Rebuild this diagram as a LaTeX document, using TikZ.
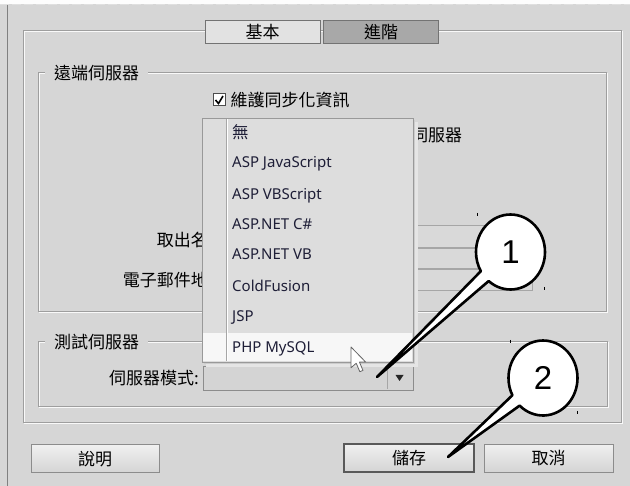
\documentclass[tikz,border=0pt]{standalone}
\usepackage{fontspec}
\newfontfamily\cjk{Noto Sans CJK TC}
\newfontfamily\uisans{Noto Sans}
\newfontfamily\numfont{Liberation Sans}
\usetikzlibrary{positioning, shapes.callouts}

\definecolor{dlgbg}{RGB}{214,214,214}
\definecolor{framegray}{RGB}{158,158,158}
\definecolor{menubg}{RGB}{221,221,221}
\definecolor{itemtext}{RGB}{30,30,55}
\definecolor{tabsel}{RGB}{168,168,168}
\definecolor{tabplain}{RGB}{226,226,226}

\begin{document}
\begin{tikzpicture}[x=1pt, y=-1pt]

	\tikzstyle{every node}=[font=\cjk\fontsize{17}{17}\selectfont, inner sep=0pt]
	\tikzstyle{etch}=[draw=framegray, line width=1pt]
	\tikzstyle{glow}=[draw=white!85!dlgbg, line width=1pt]
	\tikzstyle{grptitle}=[fill=dlgbg, anchor=west, inner xsep=6pt, inner ysep=2pt, minimum width=103pt]
	\tikzstyle{tabbox}=[draw=black!55, line width=1pt, minimum width=115pt, minimum height=23pt]
	\tikzstyle{btn}=[draw=black!45, line width=1pt, top color=black!6, bottom color=black!17, minimum height=28pt]
	\tikzstyle{item}=[anchor=base west, font=\uisans\fontsize{15}{15}\selectfont, text=itemtext]
	\tikzstyle{balloon}=[ellipse callout, draw=black, fill=white, line width=2.6pt, line join=round, minimum width=69pt, minimum height=75pt, callout pointer arc=20, font=\numfont\fontsize{33}{33}\selectfont]
	\tikzstyle{tick}=[black, line width=0.8pt]

	% dialog background
	\fill[dlgbg] (0,0) rectangle (630,486);
	\useasboundingbox (0,0) rectangle (630,486);
	\fill[white!95!dlgbg] (0,0) rectangle (630,4);
	\draw[black!12, dash pattern=on 9pt off 3pt] (0,4.5) -- (630,4.5);
	\draw[black!50, line width=1.2pt] (7.5,5) -- (7.5,486);

	% outer frame and the two groups
	\draw[glow] (24,32) rectangle (622,424);
	\draw[etch] (23,31) rectangle (621,423);
	\draw[glow] (39,74) rectangle (607,313);
	\draw[etch] (38,73) rectangle (606,312);
	\draw[glow] (39,343) rectangle (608,408);
	\draw[etch] (38,342) rectangle (607,407);

	\node[grptitle] (remtitle) at (45,73) {遠端伺服器\hfill};
	\node[grptitle] (tsttitle) at (45,342) {測試伺服器\hfill};

	% tabs
	\node[tabbox, fill=tabplain] (tabbas) at (262.5,32.5) {基本};
	\node[tabbox, fill=tabsel, right=2.5pt of tabbas] (tabadv) {進階};

	% checkbox
	\node[draw=black!70, fill=white, line width=1pt, minimum size=12pt] (chk) at (219,100) {};
	\draw[line width=1.6pt] (215.5,100) -- (218.5,103.5) -- (223,96);
	\node[right=5pt of chk] (synclbl) {維護同步化資訊};

	% labels and fields under the list
	\node[anchor=west] (srvlbl) at (411,135) {伺服器};
	\node[anchor=east] (outlbl) at (242,240) {取出名稱：};
	\node[anchor=east] (maillbl) at (242,280) {電子郵件地址：};
	\draw[draw=black!35, fill=black!15] (380,225) rectangle (532,247);
	\draw[draw=black!35, fill=black!15] (380,248) rectangle (532,268);
	\draw[draw=black!35, fill=black!15] (380,269) rectangle (532,290);

	% server model combo
	\node[anchor=east] (modelbl) at (199,378) {伺服器模式:};
	\node[draw=black!45, fill=black!17, minimum width=210pt, minimum height=24pt, anchor=north west] (combo) at (202.5,366) {};
	\draw[black!35] (387,367) -- (387,389);
	\fill[black!85] (395.5,375) -- (403.5,375) -- (399.5,381) -- cycle;

	% opened list
	\fill[black!10] (206,122) rectangle (418,367);
	\fill[black!20] (204,120) rectangle (415,364);
	\node[draw=black!40, fill=menubg, minimum width=211pt, minimum height=244pt, anchor=north west] (ddmenu) at (202,118) {};
	\fill[white!97!black] (203,333) rectangle (412,361);
	\draw[black!35] (226,119) -- (226,361);
	\draw[white] (227,119) -- (227,361);

	\node[item, font=\cjk\fontsize{16.5}{16.5}\selectfont] (itnone) at (232,139) {無};
	\node[item] (itaspjs)  at (232,168) {ASP JavaScript};
	\node[item] (itaspvb)  at (232,200) {ASP VBScript};
	\node[item] (itnetcs)  at (232,230) {ASP.NET C\#};
	\node[item] (itnetvb)  at (232,260) {ASP.NET VB};
	\node[item] (itcold)   at (232,292) {ColdFusion};
	\node[item] (itjsp)    at (232,322) {JSP};
	\node[item] (itphp)    at (232,353) {PHP MySQL};

	% mouse pointer
	\filldraw[fill=white, draw=black!60, line width=0.8pt, line join=round, shift={(351,347)}, scale=1.3]
		(0,0) -- (0,16) -- (4,12.5) -- (6.8,19) -- (9.2,18) -- (6.5,11.6) -- (11.3,11.6) -- cycle;

	% buttons
	\node[btn, minimum width=128pt] (btnhelp) at (95,459) {說明};
	\node[btn, minimum width=130pt, draw=black!65, line width=2pt] (btnsave) at (409,458.5) {儲存};
	\node[btn, minimum width=129pt] (btncancel) at (548.5,458.5) {取消};

	% numbered callouts
	\coordinate (tipA) at (377,377);
	\coordinate (tipB) at (448,457);
	\node[balloon, callout absolute pointer={(tipA)}] (callA) at (510.5,252) {1};
	\node[balloon, callout absolute pointer={(tipB)}] (callB) at (543,378) {2};

	\draw[tick] (477,213) -- (477,216);
	\draw[tick] (544,287) -- (544,290);
	\draw[tick] (510,340) -- (510,343);
	\draw[tick] (577,411) -- (577,414);

\end{tikzpicture}
\end{document}
